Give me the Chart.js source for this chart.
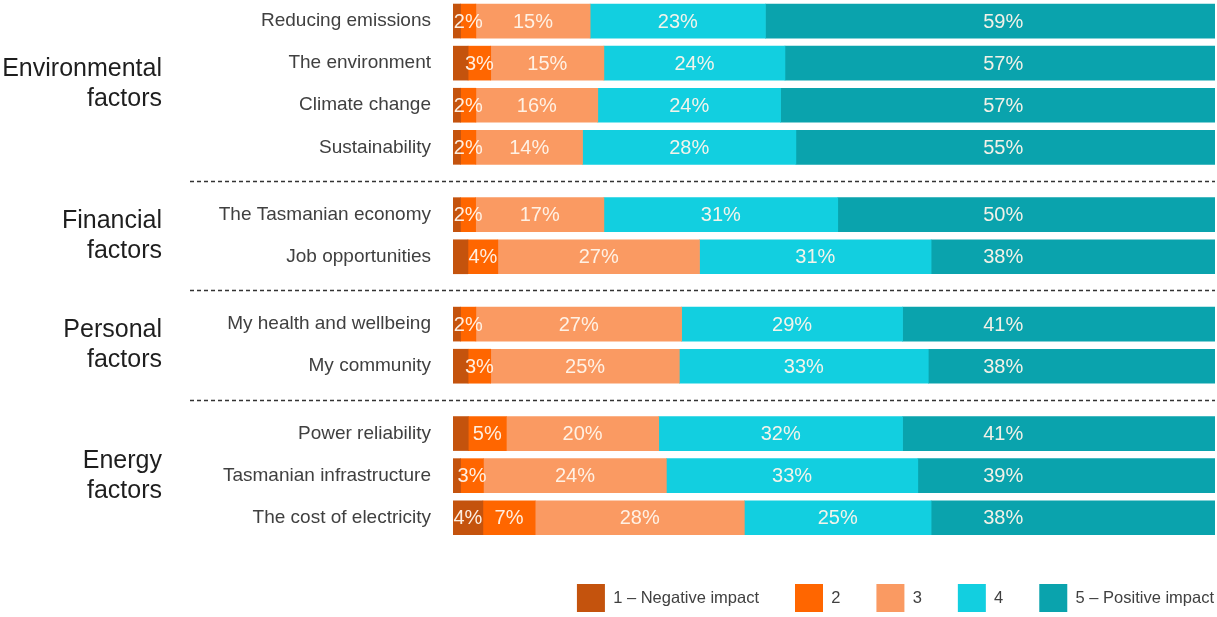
<!DOCTYPE html>
<html>
<head>
<meta charset="utf-8">
<style>
  html, body { margin: 0; padding: 0; background: #ffffff; }
  #wrap { position: relative; width: 1217px; height: 617px; }
</style>
<script src="https://cdn.jsdelivr.net/npm/chart.js@4.4.1/dist/chart.umd.min.js"></script>
</head>
<body>
<div id="wrap"><canvas id="chart"></canvas></div>
<script>
// ---------- DATA ----------
const categories = [
  "Reducing emissions", "The environment", "Climate change", "Sustainability",
  "The Tasmanian economy", "Job opportunities",
  "My health and wellbeing", "My community",
  "Power reliability", "Tasmanian infrastructure", "The cost of electricity"
];
const groupLabels = [
  ["Environmental", "factors"],
  ["Financial", "factors"],
  ["Personal", "factors"],
  ["Energy", "factors"]
];
const groupSizes = [4, 2, 2, 3];

const seriesNames = ["1 \u2013 Negative impact", "2", "3", "4", "5 \u2013 Positive impact"];
// 1 = negative impact (unlabelled slivers)
const impact1 = [1, 2, 1, 1, 1, 2, 1, 2, 2, 1, 4];
const impact2 = [2, 3, 2, 2, 2, 4, 2, 3, 5, 3, 7];
const impact3 = [15, 15, 16, 14, 17, 27, 27, 25, 20, 24, 28];
const impact4 = [23, 24, 24, 28, 31, 31, 29, 33, 32, 33, 25];
const impact5 = [59, 57, 57, 55, 50, 38, 41, 38, 41, 39, 38];

// ---------- STYLE ----------
const seriesColors = ["#C4530D", "#FF6600", "#FA9A62", "#12CFE0", "#0AA3AD"];
const FONT = '"Liberation Sans", Arial, sans-serif';
const GROUP_GAP = 0.6;

const series = [impact1, impact2, impact3, impact4, impact5];

// row positions on the (linear) category axis, with a gap between groups
const positions = [];
(function () {
  let p = 0;
  groupSizes.forEach(n => {
    for (let i = 0; i < n; i++) { positions.push(p); p += 1; }
    p += GROUP_GAP;
  });
})();

// 100% stacked: each row normalised to its own total
const totals = categories.map((_, i) => series.reduce((s, arr) => s + arr[i], 0));

const datasets = series.map((arr, k) => ({
  label: seriesNames[k],
  data: arr.map((v, i) => ({ x: v / totals[i] * 100, y: positions[i] })),
  backgroundColor: seriesColors[k],
  borderWidth: 0,
  barThickness: 34
}));

// ---------- PLUGINS ----------
const segmentLabels = {
  id: 'segmentLabels',
  afterDatasetsDraw(chart) {
    const ctx = chart.ctx;
    const xs = chart.scales.x;
    ctx.save();
    ctx.font = '20px ' + FONT;
    ctx.fillStyle = 'rgba(255,245,235,0.95)';
    ctx.textAlign = 'center';
    ctx.textBaseline = 'middle';
    chart.data.datasets.forEach((ds, k) => {
      const meta = chart.getDatasetMeta(k);
      meta.data.forEach((bar, i) => {
        const v = series[k][i];
        if (k === 0 && v < 3) return;
        let x = (bar.x + bar.base) / 2;
        if (k === series.length - 1) x = xs.getPixelForValue(72.2);
        ctx.fillText(v + '%', x, bar.y + 1);
      });
    });
    ctx.restore();
  }
};

const groupDecor = {
  id: 'groupDecor',
  afterDraw(chart) {
    const ys = chart.scales.y;
    const ctx = chart.ctx;
    const area = chart.chartArea;
    ctx.save();
    let start = 0;
    groupSizes.forEach((n, g) => {
      const first = positions[start];
      const last = positions[start + n - 1];
      const mid = ys.getPixelForValue((first + last) / 2);
      ctx.font = '25px ' + FONT;
      ctx.fillStyle = '#1e1e1e';
      ctx.textAlign = 'right';
      ctx.textBaseline = 'middle';
      const lines = groupLabels[g];
      const lh = 30;
      lines.forEach((t, j) => ctx.fillText(t, 162, mid + (j - (lines.length - 1) / 2) * lh));
      if (g < groupSizes.length - 1) {
        const next = positions[start + n];
        const y = Math.round(ys.getPixelForValue((last + next) / 2)) + 0.5;
        ctx.setLineDash([4, 3]);
        ctx.strokeStyle = '#333333';
        ctx.lineWidth = 1.3;
        ctx.beginPath();
        ctx.moveTo(190, y);
        ctx.lineTo(area.right, y);
        ctx.stroke();
        ctx.setLineDash([]);
      }
      start += n;
    });
    ctx.restore();
  }
};

const LEGEND_PAD = 36;
const legendShift = {
  id: 'legendShift',
  afterLayout(chart) {
    const lg = chart.legend;
    if (!lg) return;
    const dx = LEGEND_PAD - 1, dy = 5;
    lg.left += dx; lg.right += dx;
    lg.top += dy; lg.bottom += dy;
  }
};

// ---------- CHART ----------
new Chart(document.getElementById('chart'), {
  type: 'bar',
  data: { datasets },
  plugins: [legendShift, segmentLabels, groupDecor],
  options: {
    indexAxis: 'y',
    responsive: true,
    maintainAspectRatio: false,
    animation: false,
    layout: { padding: { top: 0, right: 2, bottom: 0, left: 0 } },
    scales: {
      x: { type: 'linear', min: 0, max: 100, stacked: true, display: false },
      y: {
        type: 'linear',
        reverse: true,
        stacked: true,
        offset: false,
        min: -0.5,
        max: positions[positions.length - 1] + 0.6,
        grid: { display: false, drawTicks: false, offset: false },
        border: { display: false },
        afterBuildTicks: (scale) => { scale.ticks = positions.map(v => ({ value: v })); },
        afterFit: (scale) => {
          scale.width = 453;
          scale.paddingTop = 0;
          scale.paddingBottom = 0;
        },
        ticks: {
          autoSkip: false,
          padding: 22,
          color: '#404040',
          font: { family: FONT, size: 19 },
          callback: (value, index) => categories[index]
        }
      }
    },
    plugins: {
      tooltip: { enabled: false },
      legend: {
        position: 'bottom',
        align: 'end',
        labels: {
          boxWidth: 28,
          boxHeight: 28,
          padding: LEGEND_PAD,
          color: '#404040',
          font: { family: FONT, size: 16.5 }
        }
      }
    }
  }
});
</script>
</body>
</html>
